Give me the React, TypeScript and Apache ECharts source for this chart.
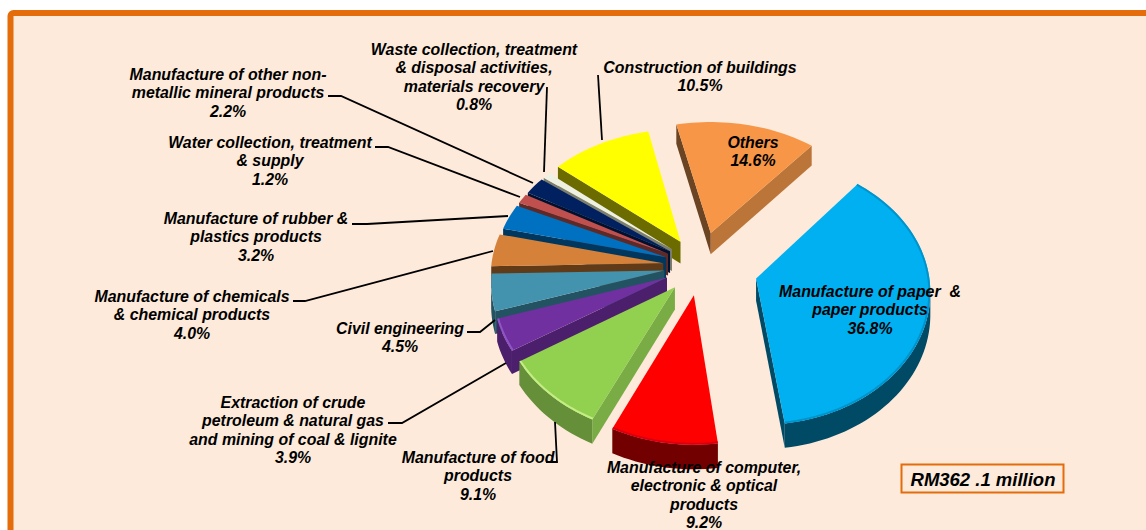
import React, { useEffect, useRef } from "react";
import * as echarts from "echarts";

const categories = [
  "Others",
  "Manufacture of paper  &\npaper products",
  "Manufacture of computer,\nelectronic & optical\nproducts",
  "Manufacture of food\nproducts",
  "Extraction of crude\npetroleum & natural gas\nand mining of coal & lignite",
  "Civil engineering",
  "Manufacture of chemicals\n& chemical products",
  "Manufacture of rubber &\nplastics products",
  "Water collection, treatment\n& supply",
  "Manufacture of other non-\nmetallic mineral products",
  "Waste collection, treatment\n& disposal activities,\nmaterials recovery",
  "Construction of buildings",
];
const shares = [14.6, 36.8, 9.2, 9.1, 3.9, 4.5, 4.0, 3.2, 1.2, 2.2, 0.8, 10.5];
const totalLabel = "RM362 .1 million";

const START_ANGLE = -12.5;
const CX = 700, CY = 266, R = 172, TILT = 0.76, PERSP_X = 0.08, PERSP_Y = 0.1, HEIGHT = 22;

type Look = { explode: number; top: string; start: string; end: string; outer: string; rim?: string };
const looks: Look[] = [
  { explode: 46, top: "#F79646", start: "#6B4423", end: "#BC7538", outer: "#BC7538" },
  { explode: 58, top: "#00B0F0", start: "#004A66", end: "#004A66", outer: "#004A66", rim: "#0094CC" },
  { explode: 38, top: "#FF0000", start: "#7A0000", end: "#7A0000", outer: "#720000", rim: "#D80010" },
  { explode: 37, top: "#92D050", start: "#7AAC46", end: "#7AAC46", outer: "#668F3A", rim: "#C4EE84" },
  { explode: 36, top: "#7030A0", start: "#4B1F6C", end: "#4B1F6C", outer: "#4B1F6C", rim: "#8E55C4" },
  { explode: 36, top: "#4393AF", start: "#235362", end: "#235362", outer: "#235362" },
  { explode: 37, top: "#D5813A", start: "#613A18", end: "#613A18", outer: "#613A18" },
  { explode: 36, top: "#0070C0", start: "#00375E", end: "#00375E", outer: "#00375E" },
  { explode: 36, top: "#C0504D", start: "#5E2A28", end: "#5E2A28", outer: "#5E2A28" },
  { explode: 36, top: "#002060", start: "#00102F", end: "#00102F", outer: "#00102F" },
  { explode: 36, top: "#EEF1E2", start: "#7C7E70", end: "#7C7E70", outer: "#7C7E70" },
  { explode: 38, top: "#FFFF00", start: "#6B6B00", end: "#6B6B00", outer: "#6B6B00" },
];

// top-left anchor of each label, same order as categories
const labelAnchors: [number, number][] = [
  [753, 133], [870, 282], [704, 458], [478, 448], [293, 393], [400, 319],
  [192, 287], [256, 209], [270, 133], [228, 65], [474, 40], [700, 58],
];

const leaders: [number, number][][] = [
  [[328, 96], [341, 96], [533, 183]],
  [[375, 147], [388, 147], [520, 197]],
  [[352, 224], [367, 224], [508, 216]],
  [[293, 301], [305, 301], [493, 251]],
  [[467, 332], [480, 332], [495, 320]],
  [[388, 423], [402, 423], [506, 363]],
  [[546, 462], [557, 462], [555, 422]],
  [[547, 87], [544, 172]],
  [[598, 75], [602, 140]],
];

const FONT = "Liberation Sans";

function project(X: number, Y: number, z: number): [number, number] {
  const sx = 1 + (PERSP_X * Y) / R;
  const sy = 1 + (PERSP_Y * Y) / R;
  return [CX + X * sx, CY + (Y * TILT + z) * sy];
}

function App() {
  const ref = useRef<HTMLDivElement>(null);
  useEffect(() => {
    document.body.style.margin = "0";
    const chart = echarts.init(ref.current!, undefined, { renderer: "svg" });
    const total = shares.reduce((a, b) => a + b, 0);
    let cum = 0;
    const rows = shares.map((v, i) => {
      const row = { value: [i, cum, v] };
      cum += v;
      return row;
    });
    const midY = (r: { value: number[] }) => {
      const mid = START_ANGLE + ((r.value[1] + r.value[2] / 2) / total) * 360;
      return -Math.cos((mid * Math.PI) / 180);
    };
    const ordered = [...rows].sort((a, b) => midY(a) - midY(b));

    const renderItem = (_p: any, api: any) => {
      const i = api.value(0);
      const a0 = START_ANGLE + (api.value(1) / total) * 360;
      const a1 = a0 + (api.value(2) / total) * 360;
      const look = looks[i];
      const mid = (((a0 + a1) / 2) * Math.PI) / 180;
      const ox = look.explode * Math.sin(mid);
      const oy = -look.explode * Math.cos(mid);
      const pt = (r: number, deg: number, z: number) => {
        const t = (deg * Math.PI) / 180;
        return project(ox + r * Math.sin(t), oy - r * Math.cos(t), z);
      };
      const n = Math.max(3, Math.ceil((a1 - a0) / 2));
      const angs = Array.from({ length: n + 1 }, (_, k) => a0 + ((a1 - a0) * k) / n);
      const apexT = project(ox, oy, 0);
      const apexB = project(ox, oy, HEIGHT);
      const arcT = angs.map((d) => pt(R, d, 0));
      const arcB = angs.map((d) => pt(R, d, HEIGHT));
      const children: any[] = [];
      const poly = (points: number[][], fill: any) =>
        children.push({ type: "polygon", shape: { points }, style: { fill, stroke: "none" } });

      if (arcT[0][0] < apexT[0]) poly([apexT, arcT[0], arcB[0], apexB], look.start);
      let run: number[] = [];
      const flush = () => {
        if (run.length > 1) {
          const top = run.map((k) => arcT[k]);
          const bot = run.map((k) => arcB[k]).reverse();
          poly([...top, ...bot], look.outer);
        }
        run = [];
      };
      for (let k = 0; k < n; k++) {
        if (arcT[k + 1][0] < arcT[k][0]) {
          if (!run.length) run.push(k);
          run.push(k + 1);
        } else flush();
      }
      flush();
      if (apexT[0] < arcT[n][0]) poly([arcT[n], apexT, apexB, arcB[n]], look.end);
      poly([apexT, ...arcT], look.top);
      if (look.rim) {
        children.push({
          type: "polyline",
          shape: { points: angs.map((d) => pt(R - 1, d, 0)) },
          style: { stroke: look.rim, lineWidth: 2, fill: "none" },
        });
      }
      return { type: "group", children };
    };

    const textBase = {
      fontFamily: FONT,
      fontWeight: "bold",
      fontStyle: "italic",
      fontSize: 15.9,
      fill: "#000000",
      textAlign: "center",
      lineHeight: 18.4,
    };

    chart.setOption({
      animation: false,
      backgroundColor: "#FFFFFF",
      graphic: [
        {
          type: "rect",
          z: -5,
          shape: { x: 10.5, y: 13, width: 1150, height: 560, r: 3 },
          style: { fill: "#FDEADA", stroke: "#E46C0A", lineWidth: 6 },
        },
        ...leaders.map((points) => ({
          type: "polyline",
          z: 50,
          shape: { points },
          style: { stroke: "#000000", lineWidth: 1.8, fill: "none" },
        })),
        ...categories.map((c, i) => ({
          type: "text",
          z: 60,
          x: labelAnchors[i][0],
          y: labelAnchors[i][1],
          style: { ...textBase, text: `${c}\n${shares[i].toFixed(1)}%` },
        })),
        {
          type: "rect",
          z: 55,
          shape: { x: 901.5, y: 464.5, width: 162, height: 28 },
          style: { fill: "#FDEADA", stroke: "#E46C0A", lineWidth: 2 },
        },
        {
          type: "text",
          z: 60,
          x: 983,
          y: 479,
          style: { ...textBase, text: totalLabel, fontSize: 18.5, textVerticalAlign: "middle" },
        },
      ],
      series: [
        {
          type: "custom",
          coordinateSystem: "none",
          z: 10,
          silent: true,
          renderItem,
          data: ordered,
        },
      ],
    });
    return () => chart.dispose();
  }, []);
  return <div ref={ref} style={{ width: 1146, height: 530 }} />;
}

export default App;
